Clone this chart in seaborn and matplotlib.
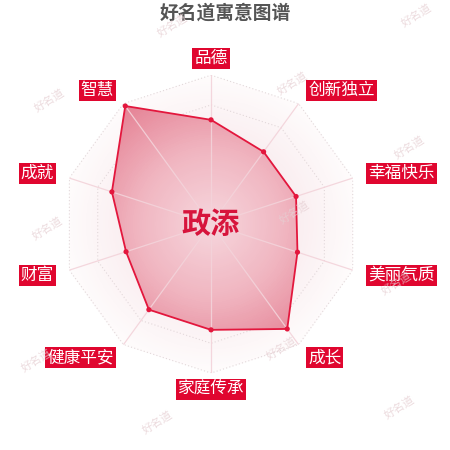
import matplotlib
matplotlib.use('Agg')
import matplotlib.pyplot as plt
from matplotlib.colors import LinearSegmentedColormap
import numpy as np
import seaborn as sns

sns.set_theme(style='white')
plt.rcParams['font.family'] = ['Noto Sans CJK SC', 'DejaVu Sans']

# Chart data
title = '好名道寓意图谱'
name = '政添'
dimensions = ['品德', '创新独立', '幸福快乐', '美丽气质', '成长',
              '家庭传承', '健康平安', '财富', '成就', '智慧']
scores = [70, 60, 60, 61, 87, 71, 71, 60, 70, 98]
ring_levels = [20, 40, 60, 80, 100]
max_score = 100
watermark = '好名道'

red = '#e0062f'
angles = np.linspace(0, 2 * np.pi, len(dimensions), endpoint=False)
closed_angles = np.append(angles, angles[0])
closed_scores = np.append(scores, scores[0])

fig = plt.figure(figsize=(4.5, 4.5), dpi=100)
ax = fig.add_axes([0.138, 0.171, 0.662, 0.662], projection='polar')
ax.set_theta_zero_location('N')
ax.set_theta_direction(-1)
ax.axis('off')

# faint background shading inside the outer ring
bg_cmap = LinearSegmentedColormap.from_list('bg', ['#f6e2e6', '#f9ebee', '#fefcfc'])
outer = ax.fill(closed_angles, [max_score] * len(closed_angles), facecolor='none', edgecolor='none')[0]
th, rr = np.meshgrid(np.linspace(0, 2 * np.pi, 241), np.linspace(0, max_score, 80))
bg = ax.pcolormesh(th, rr, rr, cmap=bg_cmap, shading='auto', zorder=0)
bg.set_clip_path(outer)

# dotted rings
for lvl in ring_levels:
    ax.plot(closed_angles, [lvl] * len(closed_angles), ls=(0, (1, 2)), color='#e2d8da', lw=0.8, zorder=1)

# gradient-filled score polygon
fill_cmap = LinearSegmentedColormap.from_list('fill', ['#f6d6dd', '#f0b5c0', '#e47f92'])
poly = ax.fill(closed_angles, closed_scores, facecolor='none', edgecolor='none')[0]
mesh = ax.pcolormesh(th, rr, rr, cmap=fill_cmap, shading='auto', zorder=2)
mesh.set_clip_path(poly)

# spokes
for a in angles:
    ax.plot([a, a], [0, max_score], color='#f3d3da', lw=0.9, alpha=0.9, zorder=3)

ax.plot(closed_angles, closed_scores, color='#e3173d', lw=1.3, zorder=4)
sns.scatterplot(x=angles, y=scores, ax=ax, color='#e3173d', s=14, edgecolor='none', zorder=5)
ax.set_ylim(0, max_score)
ax.axis('off')

# axis name labels
for a, lab in zip(angles, dimensions):
    s = np.sin(a)
    ha = 'center' if abs(s) < 1e-6 else ('left' if s > 0 else 'right')
    ax.text(a, 111, lab, ha=ha, va='center', color='white', fontsize=12,
            bbox=dict(boxstyle='square,pad=0.12', fc=red, ec='none'), zorder=6)

ax.text(0, 0, name, ha='center', va='center', fontsize=21, fontweight='bold',
        color='#d7143c', zorder=6)

fig.text(0.5, 0.972, title, ha='center', va='center', fontsize=13.5,
         fontweight='bold', color='#555555')

# watermarks
wm_x = [173, 417, 50, 293, 410, 48, 295, 397, 37, 282, 158, 400]
wm_y = [25, 15, 100, 83, 147, 228, 212, 283, 360, 348, 422, 407]
for x, y in zip(wm_x, wm_y):
    fig.text(x / 450, 1 - y / 450, watermark, ha='center', va='center', rotation=32,
             fontsize=8, color='#e6cfd3', alpha=0.75, zorder=10)

fig.savefig('out.png', dpi=100, facecolor='white')
